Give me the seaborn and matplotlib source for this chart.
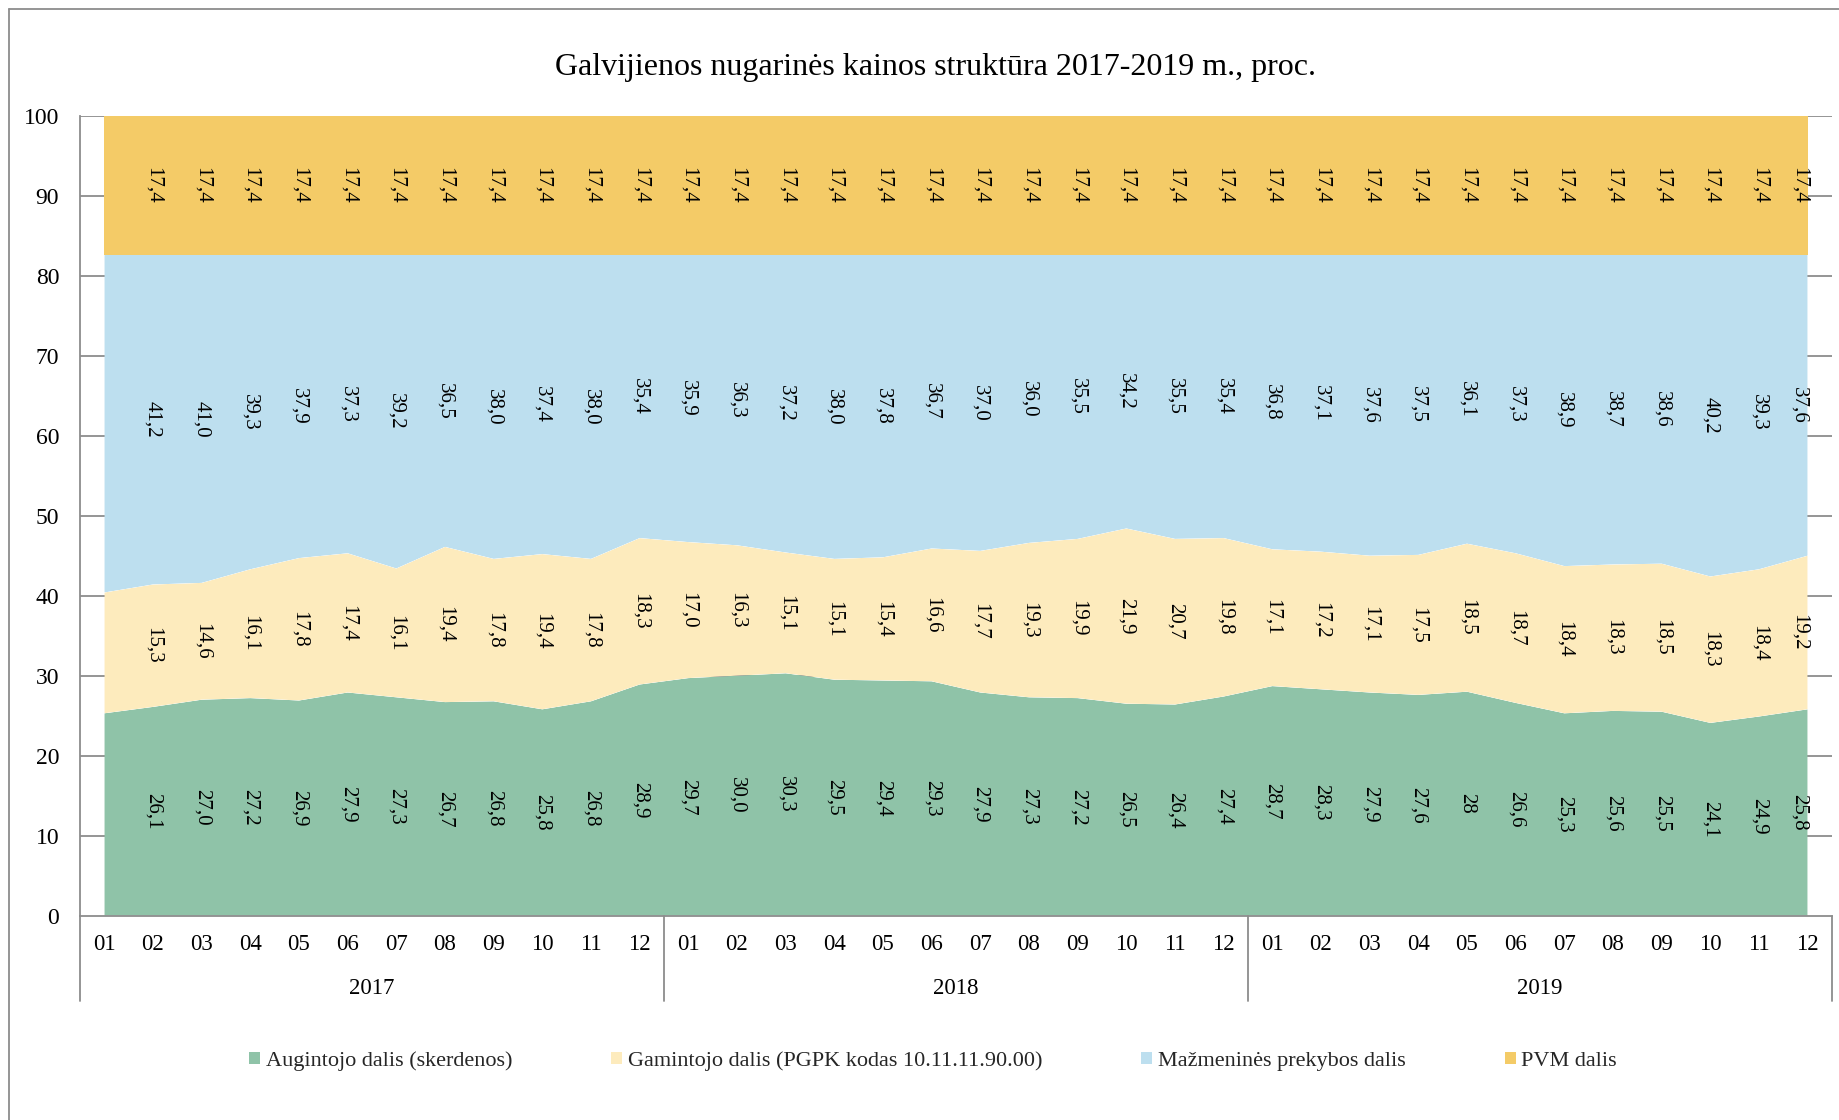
import numpy as np
import pandas as pd
import matplotlib
matplotlib.use("Agg")
import matplotlib.pyplot as plt
from matplotlib.patches import Patch
from matplotlib.lines import Line2D
import seaborn as sns
import seaborn.objects as so

# ---------------- data ----------------
years = ["2017", "2018", "2019"]
months = ["01", "02", "03", "04", "05", "06", "07", "08", "09", "10", "11", "12"]

series_names = [
    "Augintojo dalis (skerdenos)",
    "Gamintojo dalis (PGPK kodas 10.11.11.90.00)",
    "Mažmeninės prekybos dalis",
    "PVM dalis",
]

augintojo = [25.3, 26.1, 27.0, 27.2, 26.9, 27.9, 27.3, 26.7, 26.8, 25.8, 26.8, 28.9,
             29.7, 30.0, 30.3, 29.5, 29.4, 29.3, 27.9, 27.3, 27.2, 26.5, 26.4, 27.4,
             28.7, 28.3, 27.9, 27.6, 28, 26.6, 25.3, 25.6, 25.5, 24.1, 24.9, 25.8]
gamintojo = [15.1, 15.3, 14.6, 16.1, 17.8, 17.4, 16.1, 19.4, 17.8, 19.4, 17.8, 18.3,
             17.0, 16.3, 15.1, 15.1, 15.4, 16.6, 17.7, 19.3, 19.9, 21.9, 20.7, 19.8,
             17.1, 17.2, 17.1, 17.5, 18.5, 18.7, 18.4, 18.3, 18.5, 18.3, 18.4, 19.2]
mazmenines = [42.2, 41.2, 41.0, 39.3, 37.9, 37.3, 39.2, 36.5, 38.0, 37.4, 38.0, 35.4,
              35.9, 36.3, 37.2, 38.0, 37.8, 36.7, 37.0, 36.0, 35.5, 34.2, 35.5, 35.4,
              36.8, 37.1, 37.6, 37.5, 36.1, 37.3, 38.9, 38.7, 38.6, 40.2, 39.3, 37.6]
pvm = [17.4] * 36

# the first month (2017-01) carries no value labels in the reference
first_labeled = 1

colors = ["#8FC3A8", "#FDEBBD", "#BDDFEF", "#F4CB67"]
grey = "#8C8C8C"
title = "Galvijienos nugarinės kainos struktūra 2017-2019 m., proc."

# ---------------- figure ----------------
W, H = 1840, 1120
sns.set_theme(style="white")
plt.rcParams["font.family"] = ["Liberation Serif", "DejaVu Serif"]

fig = plt.figure(figsize=(W / 100, H / 100), dpi=100)
ax_left, ax_right = 80, 1832
ax_top, ax_bottom = 115.7, 915.7
ax = fig.add_axes([ax_left / W, 1 - ax_bottom / H,
                   (ax_right - ax_left) / W, (ax_bottom - ax_top) / H])

all_series = [augintojo, gamintojo, mazmenines, pvm]
n = len(augintojo)
idx = np.arange(n)
df = pd.concat([
    pd.DataFrame({"x": idx, "value": vals, "series": name})
    for name, vals in zip(series_names, all_series)
], ignore_index=True)

(
    so.Plot(df, x="x", y="value", color="series")
    .add(so.Area(alpha=1, edgewidth=0), so.Stack())
    .scale(color=dict(zip(series_names, colors)))
    .on(ax)
    .plot()
)
for lg in list(fig.legends):
    lg.set_visible(False)
fig.legends.clear()

for coll in ax.collections:
    coll.set_zorder(1)
    coll.set_alpha(1)
    coll.set_edgecolor("none")

ax.set_axisbelow(True)
for v in range(10, 101, 10):
    ax.axhline(v, color=grey, lw=1.3, zorder=0)

ax.set_facecolor("white")
ax.set_xlim(-0.5, n - 0.5)
ax.set_ylim(0, 100)
ax.set_xlabel("")
ax.set_ylabel("")
ax.grid(False)

# spines
for s in ["top", "right"]:
    ax.spines[s].set_visible(False)
for s in ["left", "bottom"]:
    ax.spines[s].set_visible(True)
    ax.spines[s].set_color(grey)
    ax.spines[s].set_linewidth(1.3)
    ax.spines[s].set_zorder(3)

# y ticks
ax.set_yticks(range(0, 101, 10))
ax.set_yticklabels([str(v) for v in range(0, 101, 10)], fontsize=17)
ax.tick_params(axis="y", length=0, pad=15, colors="black")

# x ticks (months)
ax.set_xticks(idx)
ax.set_xticklabels(months * len(years), fontsize=16.5)
ax.tick_params(axis="x", length=0, pad=21, colors="black")
for t in ax.get_xticklabels():
    t.set_va("center")

# year group separators and labels
xtrans = ax.get_xaxis_transform()
sep_bottom = (ax_bottom - 1001) / (ax_bottom - ax_top)
for xb in [-0.5, 11.5, 23.5, 35.5]:
    ax.plot([xb, xb], [0, sep_bottom], color=grey, lw=1.3,
            transform=xtrans, clip_on=False, zorder=3)
year_y = (ax_bottom - 988) / (ax_bottom - ax_top)
for k, yname in enumerate(years):
    ax.text(k * 12 + 5.5, year_y, yname, transform=xtrans, ha="center",
            va="center", fontsize=16.5, color="black")

# data labels
cum = np.zeros(n)
for vals in all_series:
    vals_arr = np.array(vals, dtype=float)
    centers = cum + vals_arr / 2
    for i in range(first_labeled, n):
        txt = str(vals[i]).replace(".", ",")
        if i == n - 1:
            ax.text(i + 0.02, centers[i], txt, rotation=270, ha="right",
                    va="center", fontsize=15, color="black", zorder=4)
        else:
            ax.text(i, centers[i], txt, rotation=270, ha="center",
                    va="center", fontsize=15, color="black", zorder=4)
    cum = cum + vals_arr

# title
fig.text(936 / W, 1 - 67 / H, title, ha="center", va="center",
         fontsize=23, color="black")

# legend
handles = [Patch(facecolor=c, edgecolor="none") for c in colors]
fig.legend(handles, series_names, loc="center", ncol=4,
           bbox_to_anchor=(933 / W, 1 - 1061 / H), frameon=False,
           fontsize=16, handlelength=0.5, handleheight=0.5,
           handletextpad=0.25, columnspacing=4.45)

# outer frame
fx0, fy0 = 9.3 / W, 1 - 9.3 / H
fig.add_artist(Line2D([fx0, 1.0], [fy0, fy0], transform=fig.transFigure,
                      color=grey, lw=1.3))
fig.add_artist(Line2D([fx0, fx0], [fy0, 0.0], transform=fig.transFigure,
                      color=grey, lw=1.3))

fig.savefig("out.png", dpi=100, facecolor="white")
